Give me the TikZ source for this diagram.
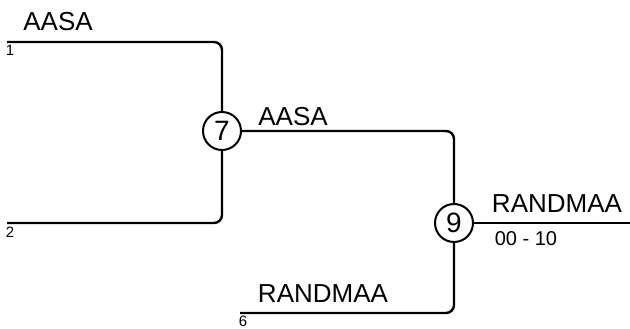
\documentclass[tikz,border=0pt]{standalone}
\usepackage{fontspec}
\setmainfont{Liberation Sans}
\begin{document}
\begin{tikzpicture}[x=1pt,y=-1pt,
  wire/.style={line width=2.4pt, rounded corners=8pt},
  game/.style={circle, draw, line width=2pt, minimum size=38pt, inner sep=0pt, font=\fontsize{28}{30}\selectfont},
  team/.style={inner sep=0pt, font=\fontsize{26}{29}\selectfont},
  seed/.style={inner sep=0pt, font=\fontsize{15}{17}\selectfont},
  score/.style={inner sep=0pt, font=\fontsize{20}{22}\selectfont}]
\useasboundingbox (0,0) rectangle (630,329);
\node[game] (c7) at (222,131) {7};
\node[game] (c9) at (454,223) {9};
\coordinate (a1) at (7,42);
\coordinate (a2) at (7,223);
\coordinate (a6) at (240,313);
\coordinate (out) at (630,223);
\draw[wire] (a1) -| (c7.north);
\draw[wire] (a2) -| (c7.south);
\draw[wire] (c7.east) -| (c9.north);
\draw[wire] (a6) -| (c9.south);
\draw[wire] (c9.east) -- (out);
\node[team] (t1) at (58,22) {AASA};
\node[seed] (s1) at (10,50) {1};
\node[seed] (s2) at (10,232) {2};
\node[team] (t7) at (293,117) {AASA};
\node[team] (t9) at (557,204) {RANDMAA};
\node[score] (sc) at (526,239) {00 - 10};
\node[team] (t6) at (323,294) {RANDMAA};
\node[seed] (s6) at (243,321) {6};
\end{tikzpicture}
\end{document}
